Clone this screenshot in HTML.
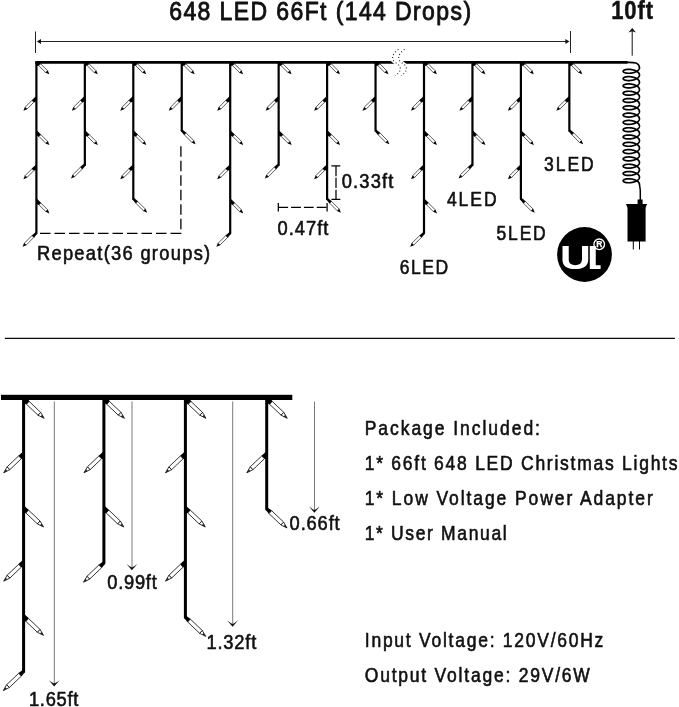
<!DOCTYPE html>
<html><head><meta charset="utf-8"><title>648 LED</title>
<style>html,body{margin:0;padding:0;background:#fff}svg{display:block;will-change:transform}</style></head>
<body>
<svg width="679" height="707" viewBox="0 0 679 707">
<rect width="679" height="707" fill="#fff"/>
<path d="M35.30 62.4 H627.5" stroke="#000" stroke-width="2.7" fill="none"/>
<path d="M36.40 62.4 V233.30" stroke="#000" stroke-width="2.2" fill="none" stroke-linecap="round"/>
<polygon points="36.40,62.40 39.28,62.40 40.87,63.60 38.60,65.87 36.40,65.88" fill="#000"/><polygon points="40.65,63.82 47.58,70.75 45.75,72.58 38.82,65.65" fill="#fff" stroke="#000" stroke-width="0.65"/><polygon points="47.80,70.53 49.35,74.35 45.53,72.80" fill="#000"/>
<polygon points="36.40,95.75 31.73,100.20 34.00,102.47 36.40,101.12" fill="#000"/><polygon points="33.78,102.25 27.00,109.04 25.16,107.20 31.95,100.42" fill="#fff" stroke="#000" stroke-width="0.65"/><polygon points="27.21,109.26 23.39,110.81 24.94,106.99" fill="#000"/>
<polygon points="36.40,129.95 41.07,134.40 38.80,136.67 36.40,135.32" fill="#000"/><polygon points="40.85,134.62 47.64,141.40 45.80,143.24 39.02,136.45" fill="#fff" stroke="#000" stroke-width="0.65"/><polygon points="47.86,141.19 49.41,145.01 45.59,143.46" fill="#000"/>
<polygon points="36.40,164.15 31.73,168.60 34.00,170.87 36.40,169.52" fill="#000"/><polygon points="33.78,170.65 27.00,177.44 25.16,175.60 31.95,168.82" fill="#fff" stroke="#000" stroke-width="0.65"/><polygon points="27.21,177.66 23.39,179.21 24.94,175.39" fill="#000"/>
<polygon points="36.40,198.35 41.07,202.80 38.80,205.07 36.40,203.72" fill="#000"/><polygon points="40.85,203.02 47.64,209.80 45.80,211.64 39.02,204.85" fill="#fff" stroke="#000" stroke-width="0.65"/><polygon points="47.86,209.59 49.41,213.41 45.59,211.86" fill="#000"/>
<polygon points="37.39,233.57 34.00,237.67 31.73,235.40 35.83,232.01" fill="#000"/><polygon points="33.78,237.45 26.15,245.09 24.31,243.25 31.95,235.62" fill="#fff" stroke="#000" stroke-width="0.65"/><polygon points="26.36,245.30 22.54,246.86 24.10,243.04" fill="#000"/>
<path d="M84.85 62.4 V164.90" stroke="#000" stroke-width="2.2" fill="none" stroke-linecap="round"/>
<polygon points="84.85,62.40 87.73,62.40 89.32,63.60 87.05,65.87 84.85,65.88" fill="#000"/><polygon points="89.10,63.82 96.03,70.75 94.20,72.58 87.27,65.65" fill="#fff" stroke="#000" stroke-width="0.65"/><polygon points="96.25,70.53 97.80,74.35 93.98,72.80" fill="#000"/>
<polygon points="84.85,95.75 80.18,100.20 82.45,102.47 84.85,101.12" fill="#000"/><polygon points="82.23,102.25 75.45,109.04 73.61,107.20 80.40,100.42" fill="#fff" stroke="#000" stroke-width="0.65"/><polygon points="75.66,109.26 71.84,110.81 73.39,106.99" fill="#000"/>
<polygon points="84.85,129.95 89.52,134.40 87.25,136.67 84.85,135.32" fill="#000"/><polygon points="89.30,134.62 96.09,141.40 94.25,143.24 87.47,136.45" fill="#fff" stroke="#000" stroke-width="0.65"/><polygon points="96.31,141.19 97.86,145.01 94.04,143.46" fill="#000"/>
<polygon points="85.84,165.17 82.45,169.27 80.18,167.00 84.28,163.61" fill="#000"/><polygon points="82.23,169.05 74.60,176.69 72.76,174.85 80.40,167.22" fill="#fff" stroke="#000" stroke-width="0.65"/><polygon points="74.81,176.90 70.99,178.46 72.55,174.64" fill="#000"/>
<path d="M133.30 62.4 V199.10" stroke="#000" stroke-width="2.2" fill="none" stroke-linecap="round"/>
<polygon points="133.30,62.40 136.18,62.40 137.77,63.60 135.50,65.87 133.30,65.88" fill="#000"/><polygon points="137.55,63.82 144.48,70.75 142.65,72.58 135.72,65.65" fill="#fff" stroke="#000" stroke-width="0.65"/><polygon points="144.70,70.53 146.25,74.35 142.43,72.80" fill="#000"/>
<polygon points="133.30,95.75 128.63,100.20 130.90,102.47 133.30,101.12" fill="#000"/><polygon points="130.68,102.25 123.90,109.04 122.06,107.20 128.85,100.42" fill="#fff" stroke="#000" stroke-width="0.65"/><polygon points="124.11,109.26 120.29,110.81 121.84,106.99" fill="#000"/>
<polygon points="133.30,129.95 137.97,134.40 135.70,136.67 133.30,135.32" fill="#000"/><polygon points="137.75,134.62 144.54,141.40 142.70,143.24 135.92,136.45" fill="#fff" stroke="#000" stroke-width="0.65"/><polygon points="144.76,141.19 146.31,145.01 142.49,143.46" fill="#000"/>
<polygon points="133.30,164.15 128.63,168.60 130.90,170.87 133.30,169.52" fill="#000"/><polygon points="130.68,170.65 123.90,177.44 122.06,175.60 128.85,168.82" fill="#fff" stroke="#000" stroke-width="0.65"/><polygon points="124.11,177.66 120.29,179.21 121.84,175.39" fill="#000"/>
<polygon points="133.87,197.81 137.97,201.20 135.70,203.47 132.31,199.37" fill="#000"/><polygon points="137.75,201.42 145.39,209.05 143.55,210.89 135.92,203.25" fill="#fff" stroke="#000" stroke-width="0.65"/><polygon points="145.60,208.84 147.16,212.66 143.34,211.10" fill="#000"/>
<path d="M181.75 62.4 V130.70" stroke="#000" stroke-width="2.2" fill="none" stroke-linecap="round"/>
<polygon points="181.75,62.40 184.63,62.40 186.22,63.60 183.95,65.87 181.75,65.88" fill="#000"/><polygon points="186.00,63.82 192.93,70.75 191.10,72.58 184.17,65.65" fill="#fff" stroke="#000" stroke-width="0.65"/><polygon points="193.15,70.53 194.70,74.35 190.88,72.80" fill="#000"/>
<polygon points="181.75,95.75 177.08,100.20 179.35,102.47 181.75,101.12" fill="#000"/><polygon points="179.13,102.25 172.35,109.04 170.51,107.20 177.30,100.42" fill="#fff" stroke="#000" stroke-width="0.65"/><polygon points="172.56,109.26 168.74,110.81 170.29,106.99" fill="#000"/>
<polygon points="182.32,129.41 186.42,132.80 184.15,135.07 180.76,130.97" fill="#000"/><polygon points="186.20,133.02 193.84,140.65 192.00,142.49 184.37,134.85" fill="#fff" stroke="#000" stroke-width="0.65"/><polygon points="194.05,140.44 195.61,144.26 191.79,142.70" fill="#000"/>
<path d="M230.20 62.4 V233.30" stroke="#000" stroke-width="2.2" fill="none" stroke-linecap="round"/>
<polygon points="230.20,62.40 233.08,62.40 234.67,63.60 232.40,65.87 230.20,65.88" fill="#000"/><polygon points="234.45,63.82 241.38,70.75 239.55,72.58 232.62,65.65" fill="#fff" stroke="#000" stroke-width="0.65"/><polygon points="241.60,70.53 243.15,74.35 239.33,72.80" fill="#000"/>
<polygon points="230.20,95.75 225.53,100.20 227.80,102.47 230.20,101.12" fill="#000"/><polygon points="227.58,102.25 220.80,109.04 218.96,107.20 225.75,100.42" fill="#fff" stroke="#000" stroke-width="0.65"/><polygon points="221.01,109.26 217.19,110.81 218.74,106.99" fill="#000"/>
<polygon points="230.20,129.95 234.87,134.40 232.60,136.67 230.20,135.32" fill="#000"/><polygon points="234.65,134.62 241.44,141.40 239.60,143.24 232.82,136.45" fill="#fff" stroke="#000" stroke-width="0.65"/><polygon points="241.66,141.19 243.21,145.01 239.39,143.46" fill="#000"/>
<polygon points="230.20,164.15 225.53,168.60 227.80,170.87 230.20,169.52" fill="#000"/><polygon points="227.58,170.65 220.80,177.44 218.96,175.60 225.75,168.82" fill="#fff" stroke="#000" stroke-width="0.65"/><polygon points="221.01,177.66 217.19,179.21 218.74,175.39" fill="#000"/>
<polygon points="230.20,198.35 234.87,202.80 232.60,205.07 230.20,203.72" fill="#000"/><polygon points="234.65,203.02 241.44,209.80 239.60,211.64 232.82,204.85" fill="#fff" stroke="#000" stroke-width="0.65"/><polygon points="241.66,209.59 243.21,213.41 239.39,211.86" fill="#000"/>
<polygon points="231.19,233.57 227.80,237.67 225.53,235.40 229.63,232.01" fill="#000"/><polygon points="227.58,237.45 219.95,245.09 218.11,243.25 225.75,235.62" fill="#fff" stroke="#000" stroke-width="0.65"/><polygon points="220.16,245.30 216.34,246.86 217.90,243.04" fill="#000"/>
<path d="M278.65 62.4 V164.90" stroke="#000" stroke-width="2.2" fill="none" stroke-linecap="round"/>
<polygon points="278.65,62.40 281.53,62.40 283.12,63.60 280.85,65.87 278.65,65.88" fill="#000"/><polygon points="282.90,63.82 289.83,70.75 288.00,72.58 281.07,65.65" fill="#fff" stroke="#000" stroke-width="0.65"/><polygon points="290.05,70.53 291.60,74.35 287.78,72.80" fill="#000"/>
<polygon points="278.65,95.75 273.98,100.20 276.25,102.47 278.65,101.12" fill="#000"/><polygon points="276.03,102.25 269.25,109.04 267.41,107.20 274.20,100.42" fill="#fff" stroke="#000" stroke-width="0.65"/><polygon points="269.46,109.26 265.64,110.81 267.19,106.99" fill="#000"/>
<polygon points="278.65,129.95 283.32,134.40 281.05,136.67 278.65,135.32" fill="#000"/><polygon points="283.10,134.62 289.89,141.40 288.05,143.24 281.27,136.45" fill="#fff" stroke="#000" stroke-width="0.65"/><polygon points="290.11,141.19 291.66,145.01 287.84,143.46" fill="#000"/>
<polygon points="279.64,165.17 276.25,169.27 273.98,167.00 278.08,163.61" fill="#000"/><polygon points="276.03,169.05 268.40,176.69 266.56,174.85 274.20,167.22" fill="#fff" stroke="#000" stroke-width="0.65"/><polygon points="268.61,176.90 264.79,178.46 266.35,174.64" fill="#000"/>
<path d="M327.10 62.4 V199.10" stroke="#000" stroke-width="2.2" fill="none" stroke-linecap="round"/>
<polygon points="327.10,62.40 329.98,62.40 331.57,63.60 329.30,65.87 327.10,65.88" fill="#000"/><polygon points="331.35,63.82 338.28,70.75 336.45,72.58 329.52,65.65" fill="#fff" stroke="#000" stroke-width="0.65"/><polygon points="338.50,70.53 340.05,74.35 336.23,72.80" fill="#000"/>
<polygon points="327.10,95.75 322.43,100.20 324.70,102.47 327.10,101.12" fill="#000"/><polygon points="324.48,102.25 317.70,109.04 315.86,107.20 322.65,100.42" fill="#fff" stroke="#000" stroke-width="0.65"/><polygon points="317.91,109.26 314.09,110.81 315.64,106.99" fill="#000"/>
<polygon points="327.10,129.95 331.77,134.40 329.50,136.67 327.10,135.32" fill="#000"/><polygon points="331.55,134.62 338.34,141.40 336.50,143.24 329.72,136.45" fill="#fff" stroke="#000" stroke-width="0.65"/><polygon points="338.56,141.19 340.11,145.01 336.29,143.46" fill="#000"/>
<polygon points="327.10,164.15 322.43,168.60 324.70,170.87 327.10,169.52" fill="#000"/><polygon points="324.48,170.65 317.70,177.44 315.86,175.60 322.65,168.82" fill="#fff" stroke="#000" stroke-width="0.65"/><polygon points="317.91,177.66 314.09,179.21 315.64,175.39" fill="#000"/>
<polygon points="327.67,197.81 331.77,201.20 329.50,203.47 326.11,199.37" fill="#000"/><polygon points="331.55,201.42 339.19,209.05 337.35,210.89 329.72,203.25" fill="#fff" stroke="#000" stroke-width="0.65"/><polygon points="339.40,208.84 340.96,212.66 337.14,211.10" fill="#000"/>
<path d="M375.55 62.4 V130.70" stroke="#000" stroke-width="2.2" fill="none" stroke-linecap="round"/>
<polygon points="375.55,62.40 378.43,62.40 380.02,63.60 377.75,65.87 375.55,65.88" fill="#000"/><polygon points="379.80,63.82 386.73,70.75 384.90,72.58 377.97,65.65" fill="#fff" stroke="#000" stroke-width="0.65"/><polygon points="386.95,70.53 388.50,74.35 384.68,72.80" fill="#000"/>
<polygon points="375.55,95.75 370.88,100.20 373.15,102.47 375.55,101.12" fill="#000"/><polygon points="372.93,102.25 366.15,109.04 364.31,107.20 371.10,100.42" fill="#fff" stroke="#000" stroke-width="0.65"/><polygon points="366.36,109.26 362.54,110.81 364.09,106.99" fill="#000"/>
<polygon points="376.12,129.41 380.22,132.80 377.95,135.07 374.56,130.97" fill="#000"/><polygon points="380.00,133.02 387.64,140.65 385.80,142.49 378.17,134.85" fill="#fff" stroke="#000" stroke-width="0.65"/><polygon points="387.85,140.44 389.41,144.26 385.59,142.70" fill="#000"/>
<path d="M424.00 62.4 V233.30" stroke="#000" stroke-width="2.2" fill="none" stroke-linecap="round"/>
<polygon points="424.00,62.40 426.88,62.40 428.47,63.60 426.20,65.87 424.00,65.88" fill="#000"/><polygon points="428.25,63.82 435.18,70.75 433.35,72.58 426.42,65.65" fill="#fff" stroke="#000" stroke-width="0.65"/><polygon points="435.40,70.53 436.95,74.35 433.13,72.80" fill="#000"/>
<polygon points="424.00,95.75 419.33,100.20 421.60,102.47 424.00,101.12" fill="#000"/><polygon points="421.38,102.25 414.60,109.04 412.76,107.20 419.55,100.42" fill="#fff" stroke="#000" stroke-width="0.65"/><polygon points="414.81,109.26 410.99,110.81 412.54,106.99" fill="#000"/>
<polygon points="424.00,129.95 428.67,134.40 426.40,136.67 424.00,135.32" fill="#000"/><polygon points="428.45,134.62 435.24,141.40 433.40,143.24 426.62,136.45" fill="#fff" stroke="#000" stroke-width="0.65"/><polygon points="435.46,141.19 437.01,145.01 433.19,143.46" fill="#000"/>
<polygon points="424.00,164.15 419.33,168.60 421.60,170.87 424.00,169.52" fill="#000"/><polygon points="421.38,170.65 414.60,177.44 412.76,175.60 419.55,168.82" fill="#fff" stroke="#000" stroke-width="0.65"/><polygon points="414.81,177.66 410.99,179.21 412.54,175.39" fill="#000"/>
<polygon points="424.00,198.35 428.67,202.80 426.40,205.07 424.00,203.72" fill="#000"/><polygon points="428.45,203.02 435.24,209.80 433.40,211.64 426.62,204.85" fill="#fff" stroke="#000" stroke-width="0.65"/><polygon points="435.46,209.59 437.01,213.41 433.19,211.86" fill="#000"/>
<polygon points="424.99,233.57 421.60,237.67 419.33,235.40 423.43,232.01" fill="#000"/><polygon points="421.38,237.45 413.75,245.09 411.91,243.25 419.55,235.62" fill="#fff" stroke="#000" stroke-width="0.65"/><polygon points="413.96,245.30 410.14,246.86 411.70,243.04" fill="#000"/>
<path d="M472.45 62.4 V164.90" stroke="#000" stroke-width="2.2" fill="none" stroke-linecap="round"/>
<polygon points="472.45,62.40 475.33,62.40 476.92,63.60 474.65,65.87 472.45,65.88" fill="#000"/><polygon points="476.70,63.82 483.63,70.75 481.80,72.58 474.87,65.65" fill="#fff" stroke="#000" stroke-width="0.65"/><polygon points="483.85,70.53 485.40,74.35 481.58,72.80" fill="#000"/>
<polygon points="472.45,95.75 467.78,100.20 470.05,102.47 472.45,101.12" fill="#000"/><polygon points="469.83,102.25 463.05,109.04 461.21,107.20 468.00,100.42" fill="#fff" stroke="#000" stroke-width="0.65"/><polygon points="463.26,109.26 459.44,110.81 460.99,106.99" fill="#000"/>
<polygon points="472.45,129.95 477.12,134.40 474.85,136.67 472.45,135.32" fill="#000"/><polygon points="476.90,134.62 483.69,141.40 481.85,143.24 475.07,136.45" fill="#fff" stroke="#000" stroke-width="0.65"/><polygon points="483.91,141.19 485.46,145.01 481.64,143.46" fill="#000"/>
<polygon points="473.44,165.17 470.05,169.27 467.78,167.00 471.88,163.61" fill="#000"/><polygon points="469.83,169.05 462.20,176.69 460.36,174.85 468.00,167.22" fill="#fff" stroke="#000" stroke-width="0.65"/><polygon points="462.41,176.90 458.59,178.46 460.15,174.64" fill="#000"/>
<path d="M520.90 62.4 V199.10" stroke="#000" stroke-width="2.2" fill="none" stroke-linecap="round"/>
<polygon points="520.90,62.40 523.78,62.40 525.37,63.60 523.10,65.87 520.90,65.88" fill="#000"/><polygon points="525.15,63.82 532.08,70.75 530.25,72.58 523.32,65.65" fill="#fff" stroke="#000" stroke-width="0.65"/><polygon points="532.30,70.53 533.85,74.35 530.03,72.80" fill="#000"/>
<polygon points="520.90,95.75 516.23,100.20 518.50,102.47 520.90,101.12" fill="#000"/><polygon points="518.28,102.25 511.50,109.04 509.66,107.20 516.45,100.42" fill="#fff" stroke="#000" stroke-width="0.65"/><polygon points="511.71,109.26 507.89,110.81 509.44,106.99" fill="#000"/>
<polygon points="520.90,129.95 525.57,134.40 523.30,136.67 520.90,135.32" fill="#000"/><polygon points="525.35,134.62 532.14,141.40 530.30,143.24 523.52,136.45" fill="#fff" stroke="#000" stroke-width="0.65"/><polygon points="532.36,141.19 533.91,145.01 530.09,143.46" fill="#000"/>
<polygon points="520.90,164.15 516.23,168.60 518.50,170.87 520.90,169.52" fill="#000"/><polygon points="518.28,170.65 511.50,177.44 509.66,175.60 516.45,168.82" fill="#fff" stroke="#000" stroke-width="0.65"/><polygon points="511.71,177.66 507.89,179.21 509.44,175.39" fill="#000"/>
<polygon points="521.47,197.81 525.57,201.20 523.30,203.47 519.91,199.37" fill="#000"/><polygon points="525.35,201.42 532.99,209.05 531.15,210.89 523.52,203.25" fill="#fff" stroke="#000" stroke-width="0.65"/><polygon points="533.20,208.84 534.76,212.66 530.94,211.10" fill="#000"/>
<path d="M569.35 62.4 V130.70" stroke="#000" stroke-width="2.2" fill="none" stroke-linecap="round"/>
<polygon points="569.35,62.40 572.23,62.40 573.82,63.60 571.55,65.87 569.35,65.88" fill="#000"/><polygon points="573.60,63.82 580.53,70.75 578.70,72.58 571.77,65.65" fill="#fff" stroke="#000" stroke-width="0.65"/><polygon points="580.75,70.53 582.30,74.35 578.48,72.80" fill="#000"/>
<polygon points="569.35,95.75 564.68,100.20 566.95,102.47 569.35,101.12" fill="#000"/><polygon points="566.73,102.25 559.95,109.04 558.11,107.20 564.90,100.42" fill="#fff" stroke="#000" stroke-width="0.65"/><polygon points="560.16,109.26 556.34,110.81 557.89,106.99" fill="#000"/>
<polygon points="569.92,129.41 574.02,132.80 571.75,135.07 568.36,130.97" fill="#000"/><polygon points="573.80,133.02 581.44,140.65 579.60,142.49 571.97,134.85" fill="#fff" stroke="#000" stroke-width="0.65"/><polygon points="581.65,140.44 583.21,144.26 579.39,142.70" fill="#000"/>
<path d="M395.50 49.40 C391.00 52.60 389.30 55.60 389.60 58.10 C390.00 61.60 393.00 62.60 394.50 64.00 C397.00 66.10 397.60 68.10 397.20 69.60 C396.80 72.10 394.50 74.10 392.00 75.60 L404.10 75.60 C406.60 74.10 408.90 72.10 409.30 69.60 C409.70 68.10 409.10 66.10 406.60 64.00 C405.10 62.60 402.10 61.60 401.70 58.10 C401.40 55.60 403.10 52.60 407.60 49.40 Z" fill="#fff" stroke="none"/>
<path d="M398.50 49.40 C394.00 52.60 392.30 55.60 392.60 58.10 C393.00 61.60 396.00 62.60 397.50 64.00 C400.00 66.10 400.60 68.10 400.20 69.60 C399.80 72.10 397.50 74.10 395.00 75.60" fill="none" stroke="#222" stroke-width="1.1" stroke-dasharray="1 2.3"/>
<path d="M404.60 49.40 C400.10 52.60 398.40 55.60 398.70 58.10 C399.10 61.60 402.10 62.60 403.60 64.00 C406.10 66.10 406.70 68.10 406.30 69.60 C405.90 72.10 403.60 74.10 401.10 75.60" fill="none" stroke="#222" stroke-width="1.1" stroke-dasharray="1 2.3"/>
<g stroke="#222" stroke-width="1" fill="none">
<path d="M35.5 31.5 V53"/><path d="M570.5 31 V53"/><path d="M38 41.5 H568"/>
</g>
<polygon points="36.8,41.5 41,39.1 41,43.9" fill="#111"/>
<polygon points="569.4,41.5 565.4,39.1 565.4,43.9" fill="#111"/>
<path d="M632.2 30 V55.7" stroke="#111" stroke-width="1" fill="none"/>
<path d="M632.2 28 L636 32.6 L632.2 31.3 L628.4 32.6 Z" fill="#111"/>
<path d="M639.45 67.65 L639.44 67.92 L639.40 68.18 L639.34 68.45 L639.25 68.71 L639.13 68.97 L639.00 69.22 L638.83 69.48 L638.65 69.73 L638.44 69.97 L638.21 70.21 L637.96 70.44 L637.69 70.67 L637.39 70.89 L637.08 71.10 L636.75 71.30 L636.40 71.50 L636.04 71.68 L635.66 71.86 L635.27 72.03 L634.87 72.19 L634.45 72.33 L634.03 72.47 L633.60 72.60 L633.16 72.71 L632.71 72.82 L632.26 72.91 L631.80 73.00 L631.35 73.07 L630.89 73.13 L630.44 73.18 L629.99 73.22 L629.54 73.24 L629.10 73.26 L628.67 73.26 L628.24 73.26 L627.82 73.24 L627.42 73.22 L627.02 73.18 L626.64 73.14 L626.27 73.08 L625.92 73.02 L625.59 72.95 L625.27 72.87 L624.98 72.78 L624.70 72.68 L624.44 72.58 L624.21 72.48 L623.99 72.36 L623.80 72.24 L623.64 72.12 L623.49 72.00 L623.38 71.87 L623.28 71.74 L623.21 71.60 L623.17 71.47 L623.15 71.33 L623.16 71.19 L623.19 71.06 L623.25 70.92 L623.33 70.79 L623.44 70.66 L623.57 70.53 L623.73 70.41 L623.91 70.29 L624.11 70.17 L624.34 70.06 L624.58 69.96 L624.85 69.86 L625.14 69.77 L625.45 69.69 L625.78 69.61 L626.12 69.55 L626.48 69.49 L626.85 69.44 L627.24 69.40 L627.64 69.37 L628.06 69.35 L628.48 69.34 L628.91 69.34 L629.35 69.35 L629.79 69.37 L630.24 69.40 L630.70 69.45 L631.15 69.50 L631.61 69.57 L632.06 69.65 L632.51 69.74 L632.96 69.84 L633.40 69.95 L633.84 70.07 L634.27 70.21 L634.69 70.35 L635.10 70.50 L635.49 70.67 L635.88 70.84 L636.25 71.02 L636.60 71.21 L636.94 71.41 L637.26 71.62 L637.56 71.84 L637.84 72.06 L638.10 72.29 L638.34 72.53 L638.56 72.77 L638.76 73.01 L638.93 73.26 L639.08 73.52 L639.20 73.78 L639.30 74.04 L639.37 74.30 L639.42 74.57 L639.45 74.83 L639.45 75.10 L639.42 75.37 L639.37 75.63 L639.29 75.89 L639.19 76.15 L639.06 76.41 L638.91 76.67 L638.73 76.92 L638.53 77.16 L638.31 77.40 L638.07 77.64 L637.81 77.87 L637.52 78.09 L637.22 78.31 L636.90 78.51 L636.56 78.71 L636.20 78.90 L635.83 79.08 L635.44 79.25 L635.05 79.42 L634.64 79.57 L634.22 79.71 L633.79 79.84 L633.35 79.96 L632.90 80.07 L632.46 80.17 L632.00 80.26 L631.55 80.34 L631.09 80.40 L630.64 80.46 L630.19 80.50 L629.74 80.53 L629.29 80.55 L628.85 80.56 L628.42 80.56 L628.00 80.55 L627.59 80.53 L627.19 80.50 L626.81 80.46 L626.43 80.41 L626.08 80.35 L625.73 80.28 L625.41 80.20 L625.10 80.12 L624.82 80.03 L624.55 79.93 L624.31 79.82 L624.09 79.71 L623.88 79.60 L623.71 79.48 L623.55 79.35 L623.42 79.22 L623.32 79.09 L623.24 78.96 L623.18 78.83 L623.16 78.69 L623.15 78.55 L623.17 78.42 L623.22 78.28 L623.29 78.15 L623.39 78.02 L623.51 77.89 L623.66 77.76 L623.83 77.64 L624.02 77.52 L624.24 77.41 L624.47 77.30 L624.73 77.20 L625.01 77.11 L625.31 77.02 L625.63 76.94 L625.97 76.87 L626.32 76.81 L626.69 76.76 L627.07 76.71 L627.47 76.68 L627.87 76.65 L628.29 76.64 L628.72 76.64 L629.16 76.64 L629.60 76.66 L630.05 76.69 L630.50 76.73 L630.95 76.78 L631.41 76.84 L631.86 76.91 L632.31 77.00 L632.77 77.09 L633.21 77.20 L633.65 77.32 L634.08 77.45 L634.51 77.58 L634.92 77.73 L635.32 77.89 L635.71 78.06 L636.09 78.24 L636.45 78.43 L636.79 78.62 L637.12 78.83 L637.43 79.04 L637.72 79.26 L637.99 79.49 L638.24 79.72 L638.47 79.96 L638.67 80.21 L638.86 80.45 L639.01 80.71 L639.15 80.96 L639.26 81.22 L639.35 81.49 L639.41 81.75 L639.44 82.02 L639.45 82.28 L639.43 82.55 L639.39 82.81 L639.33 83.08 L639.23 83.34 L639.12 83.60 L638.98 83.86 L638.81 84.11 L638.62 84.36 L638.41 84.60 L638.18 84.84 L637.93 85.07 L637.65 85.29 L637.35 85.51 L637.04 85.72 L636.71 85.93 L636.36 86.12 L635.99 86.30 L635.61 86.48 L635.22 86.65 L634.82 86.80 L634.40 86.95 L633.97 87.09 L633.54 87.21 L633.10 87.33 L632.65 87.43 L632.20 87.52 L631.75 87.61 L631.29 87.68 L630.84 87.74 L630.38 87.78 L629.93 87.82 L629.49 87.85 L629.05 87.86 L628.61 87.86 L628.19 87.86 L627.77 87.84 L627.37 87.81 L626.97 87.78 L626.59 87.73 L626.23 87.67 L625.88 87.61 L625.55 87.54 L625.24 87.46 L624.94 87.37 L624.67 87.27 L624.41 87.17 L624.18 87.06 L623.97 86.95 L623.78 86.83 L623.62 86.71 L623.48 86.58 L623.36 86.45 L623.27 86.32 L623.21 86.18 L623.17 86.05 L623.15 85.91 L623.16 85.78 L623.20 85.64 L623.26 85.51 L623.34 85.37 L623.45 85.24 L623.59 85.12 L623.75 84.99 L623.93 84.87 L624.14 84.76 L624.37 84.65 L624.62 84.55 L624.89 84.45 L625.18 84.36 L625.49 84.28 L625.82 84.20 L626.16 84.14 L626.52 84.08 L626.90 84.03 L627.29 83.99 L627.69 83.96 L628.11 83.95 L628.53 83.94 L628.96 83.94 L629.40 83.95 L629.85 83.97 L630.30 84.01 L630.75 84.06 L631.21 84.11 L631.66 84.18 L632.12 84.26 L632.57 84.35 L633.02 84.45 L633.46 84.57 L633.89 84.69 L634.32 84.82 L634.74 84.97 L635.15 85.12 L635.54 85.29 L635.92 85.46 L636.29 85.65 L636.64 85.84 L636.98 86.04 L637.30 86.25 L637.60 86.46 L637.88 86.69 L638.13 86.92 L638.37 87.16 L638.59 87.40 L638.78 87.64 L638.95 87.90 L639.09 88.15 L639.21 88.41 L639.31 88.67 L639.38 88.94 L639.43 89.20 L639.45 89.47 L639.44 89.73 L639.41 90.00 L639.36 90.26 L639.28 90.53 L639.17 90.79 L639.04 91.04 L638.89 91.30 L638.71 91.55 L638.51 91.79 L638.28 92.03 L638.04 92.27 L637.77 92.50 L637.49 92.72 L637.18 92.93 L636.86 93.14 L636.51 93.34 L636.16 93.52 L635.78 93.70 L635.40 93.88 L635.00 94.04 L634.58 94.19 L634.16 94.33 L633.73 94.46 L633.29 94.58 L632.85 94.69 L632.40 94.78 L631.95 94.87 L631.49 94.95 L631.04 95.01 L630.58 95.06 L630.13 95.11 L629.68 95.14 L629.24 95.16 L628.80 95.16 L628.37 95.16 L627.95 95.15 L627.54 95.13 L627.14 95.09 L626.76 95.05 L626.39 95.00 L626.03 94.94 L625.69 94.87 L625.37 94.79 L625.07 94.71 L624.78 94.61 L624.52 94.51 L624.28 94.41 L624.06 94.30 L623.86 94.18 L623.69 94.06 L623.54 93.94 L623.41 93.81 L623.31 93.68 L623.23 93.54 L623.18 93.41 L623.15 93.27 L623.15 93.14 L623.18 93.00 L623.23 92.87 L623.30 92.73 L623.40 92.60 L623.53 92.47 L623.68 92.35 L623.85 92.23 L624.05 92.11 L624.26 92.00 L624.51 91.89 L624.77 91.79 L625.05 91.70 L625.35 91.61 L625.67 91.54 L626.01 91.47 L626.36 91.40 L626.73 91.35 L627.12 91.31 L627.52 91.28 L627.92 91.25 L628.34 91.24 L628.77 91.24 L629.21 91.24 L629.65 91.26 L630.10 91.29 L630.55 91.33 L631.01 91.39 L631.46 91.45 L631.92 91.52 L632.37 91.61 L632.82 91.71 L633.27 91.81 L633.70 91.93 L634.14 92.06 L634.56 92.20 L634.97 92.35 L635.37 92.51 L635.76 92.68 L636.13 92.86 L636.49 93.05 L636.83 93.25 L637.16 93.46 L637.47 93.67 L637.76 93.89 L638.02 94.12 L638.27 94.35 L638.49 94.59 L638.70 94.84 L638.88 95.09 L639.03 95.34 L639.16 95.60 L639.27 95.86 L639.35 96.12 L639.41 96.38 L639.44 96.65 L639.45 96.92 L639.43 97.18 L639.39 97.45 L639.32 97.71 L639.22 97.97 L639.10 98.23 L638.96 98.49 L638.79 98.74 L638.60 98.99 L638.39 99.23 L638.15 99.47 L637.89 99.70 L637.61 99.92 L637.32 100.14 L637.00 100.35 L636.67 100.55 L636.31 100.74 L635.95 100.93 L635.57 101.10 L635.17 101.27 L634.77 101.42 L634.35 101.57 L633.92 101.70 L633.49 101.83 L633.04 101.94 L632.60 102.04 L632.15 102.13 L631.69 102.22 L631.24 102.28 L630.78 102.34 L630.33 102.39 L629.88 102.42 L629.43 102.45 L628.99 102.46 L628.56 102.46 L628.13 102.46 L627.72 102.44 L627.32 102.41 L626.92 102.37 L626.55 102.32 L626.19 102.27 L625.84 102.20 L625.51 102.13 L625.20 102.04 L624.91 101.96 L624.63 101.86 L624.38 101.76 L624.15 101.65 L623.94 101.53 L623.76 101.41 L623.60 101.29 L623.46 101.16 L623.35 101.03 L623.26 100.90 L623.20 100.77 L623.16 100.63 L623.15 100.50 L623.16 100.36 L623.20 100.22 L623.27 100.09 L623.36 99.96 L623.47 99.83 L623.61 99.70 L623.77 99.58 L623.96 99.46 L624.17 99.35 L624.40 99.24 L624.65 99.13 L624.92 99.04 L625.22 98.95 L625.53 98.87 L625.86 98.80 L626.21 98.73 L626.57 98.67 L626.95 98.63 L627.34 98.59 L627.74 98.56 L628.16 98.54 L628.58 98.54 L629.02 98.54 L629.46 98.55 L629.91 98.58 L630.36 98.61 L630.81 98.66 L631.26 98.72 L631.72 98.79 L632.17 98.87 L632.62 98.96 L633.07 99.07 L633.51 99.18 L633.95 99.30 L634.37 99.44 L634.79 99.59 L635.20 99.74 L635.59 99.91 L635.97 100.08 L636.34 100.27 L636.69 100.46 L637.02 100.66 L637.34 100.87 L637.63 101.09 L637.91 101.32 L638.16 101.55 L638.40 101.79 L638.61 102.03 L638.80 102.28 L638.97 102.53 L639.11 102.78 L639.23 103.04 L639.32 103.31 L639.39 103.57 L639.43 103.83 L639.45 104.10 L639.44 104.37 L639.41 104.63 L639.35 104.90 L639.27 105.16 L639.16 105.42 L639.02 105.68 L638.87 105.93 L638.69 106.18 L638.48 106.42 L638.26 106.66 L638.01 106.90 L637.74 107.12 L637.45 107.34 L637.14 107.56 L636.81 107.76 L636.47 107.96 L636.11 108.15 L635.74 108.33 L635.35 108.50 L634.94 108.66 L634.53 108.81 L634.11 108.95 L633.68 109.07 L633.24 109.19 L632.79 109.30 L632.34 109.40 L631.89 109.48 L631.44 109.56 L630.98 109.62 L630.53 109.67 L630.07 109.71 L629.63 109.74 L629.18 109.76 L628.75 109.76 L628.32 109.76 L627.90 109.75 L627.49 109.72 L627.09 109.69 L626.71 109.64 L626.34 109.59 L625.99 109.53 L625.65 109.46 L625.33 109.38 L625.03 109.30 L624.75 109.20 L624.49 109.10 L624.25 109.00 L624.03 108.88 L623.84 108.77 L623.67 108.65 L623.52 108.52 L623.40 108.39 L623.30 108.26 L623.22 108.13 L623.18 107.99 L623.15 107.86 L623.15 107.72 L623.18 107.58 L623.24 107.45 L623.31 107.32 L623.42 107.18 L623.54 107.06 L623.70 106.93 L623.87 106.81 L624.07 106.69 L624.29 106.58 L624.54 106.48 L624.80 106.38 L625.09 106.29 L625.39 106.20 L625.71 106.13 L626.05 106.06 L626.41 106.00 L626.78 105.95 L627.17 105.90 L627.57 105.87 L627.98 105.85 L628.40 105.84 L628.83 105.84 L629.27 105.85 L629.71 105.87 L630.16 105.90 L630.61 105.94 L631.07 105.99 L631.52 106.06 L631.98 106.13 L632.43 106.22 L632.88 106.32 L633.32 106.43 L633.76 106.55 L634.19 106.68 L634.61 106.82 L635.02 106.97 L635.42 107.13 L635.81 107.31 L636.18 107.49 L636.54 107.68 L636.88 107.88 L637.20 108.08 L637.50 108.30 L637.79 108.52 L638.06 108.75 L638.30 108.98 L638.52 109.22 L638.72 109.47 L638.90 109.72 L639.05 109.97 L639.18 110.23 L639.28 110.49 L639.36 110.75 L639.42 111.02 L639.45 111.28 L639.45 111.55 L639.43 111.82 L639.38 112.08 L639.31 112.34 L639.21 112.61 L639.09 112.86 L638.94 113.12 L638.77 113.37 L638.57 113.62 L638.36 113.86 L638.12 114.10 L637.86 114.33 L637.58 114.55 L637.28 114.77 L636.96 114.97 L636.62 115.17 L636.27 115.37 L635.90 115.55 L635.52 115.72 L635.12 115.89 L634.71 116.04 L634.30 116.19 L633.87 116.32 L633.43 116.44 L632.99 116.55 L632.54 116.66 L632.09 116.75 L631.63 116.82 L631.18 116.89 L630.72 116.95 L630.27 116.99 L629.82 117.03 L629.38 117.05 L628.94 117.06 L628.50 117.06 L628.08 117.05 L627.67 117.03 L627.27 117.00 L626.88 116.97 L626.50 116.92 L626.14 116.86 L625.80 116.79 L625.47 116.72 L625.16 116.63 L624.87 116.54 L624.60 116.45 L624.35 116.34 L624.13 116.23 L623.92 116.12 L623.74 116.00 L623.58 115.88 L623.45 115.75 L623.34 115.62 L623.25 115.49 L623.19 115.35 L623.16 115.21 L623.15 115.08 L623.17 114.94 L623.21 114.81 L623.28 114.67 L623.37 114.54 L623.49 114.41 L623.63 114.29 L623.79 114.16 L623.98 114.04 L624.19 113.93 L624.43 113.82 L624.68 113.72 L624.96 113.63 L625.26 113.54 L625.57 113.46 L625.90 113.39 L626.25 113.32 L626.62 113.27 L627.00 113.22 L627.39 113.18 L627.80 113.16 L628.21 113.14 L628.64 113.14 L629.07 113.14 L629.51 113.16 L629.96 113.18 L630.41 113.22 L630.87 113.27 L631.32 113.33 L631.78 113.40 L632.23 113.48 L632.68 113.57 L633.13 113.68 L633.57 113.79 L634.00 113.92 L634.43 114.06 L634.84 114.21 L635.25 114.36 L635.64 114.53 L636.02 114.71 L636.38 114.89 L636.73 115.09 L637.06 115.29 L637.37 115.50 L637.67 115.72 L637.94 115.95 L638.20 116.18 L638.43 116.42 L638.64 116.66 L638.82 116.91 L638.99 117.16 L639.13 117.42 L639.24 117.68 L639.33 117.94 L639.40 118.20 L639.44 118.47 L639.45 118.73 L639.44 119.00 L639.40 119.26 L639.34 119.53 L639.25 119.79 L639.14 120.05 L639.01 120.31 L638.85 120.56 L638.66 120.81 L638.45 121.05 L638.23 121.29 L637.97 121.53 L637.70 121.75 L637.41 121.97 L637.10 122.18 L636.77 122.39 L636.43 122.58 L636.06 122.77 L635.69 122.95 L635.30 123.12 L634.89 123.28 L634.48 123.42 L634.06 123.56 L633.62 123.69 L633.18 123.81 L632.74 123.91 L632.29 124.01 L631.83 124.09 L631.38 124.16 L630.92 124.22 L630.47 124.27 L630.02 124.31 L629.57 124.34 L629.13 124.36 L628.69 124.36 L628.27 124.36 L627.85 124.34 L627.44 124.32 L627.05 124.28 L626.66 124.24 L626.30 124.18 L625.95 124.12 L625.61 124.05 L625.29 123.97 L625.00 123.88 L624.72 123.79 L624.46 123.69 L624.22 123.58 L624.01 123.47 L623.82 123.35 L623.65 123.23 L623.50 123.10 L623.38 122.98 L623.29 122.84 L623.22 122.71 L623.17 122.57 L623.15 122.44 L623.16 122.30 L623.19 122.17 L623.24 122.03 L623.33 121.90 L623.43 121.77 L623.56 121.64 L623.72 121.52 L623.90 121.40 L624.10 121.28 L624.32 121.17 L624.57 121.07 L624.84 120.97 L625.12 120.88 L625.43 120.79 L625.75 120.72 L626.10 120.65 L626.46 120.59 L626.83 120.54 L627.22 120.50 L627.62 120.47 L628.03 120.45 L628.45 120.44 L628.88 120.44 L629.32 120.45 L629.77 120.47 L630.21 120.50 L630.67 120.55 L631.12 120.60 L631.58 120.67 L632.03 120.74 L632.48 120.83 L632.93 120.93 L633.38 121.04 L633.81 121.16 L634.24 121.30 L634.66 121.44 L635.07 121.59 L635.47 121.76 L635.85 121.93 L636.22 122.11 L636.58 122.30 L636.92 122.50 L637.24 122.71 L637.54 122.92 L637.82 123.15 L638.09 123.38 L638.33 123.61 L638.55 123.85 L638.74 124.10 L638.92 124.35 L639.07 124.60 L639.19 124.86 L639.29 125.12 L639.37 125.39 L639.42 125.65 L639.45 125.92 L639.45 126.18 L639.42 126.45 L639.37 126.71 L639.29 126.98 L639.19 127.24 L639.07 127.50 L638.92 127.75 L638.74 128.00 L638.55 128.25 L638.33 128.49 L638.09 128.72 L637.82 128.95 L637.54 129.18 L637.24 129.39 L636.92 129.60 L636.58 129.80 L636.22 129.99 L635.85 130.17 L635.47 130.34 L635.07 130.51 L634.66 130.66 L634.24 130.80 L633.81 130.94 L633.38 131.06 L632.93 131.17 L632.48 131.27 L632.03 131.36 L631.58 131.43 L631.12 131.50 L630.67 131.55 L630.21 131.60 L629.77 131.63 L629.32 131.65 L628.88 131.66 L628.45 131.66 L628.03 131.65 L627.62 131.63 L627.22 131.60 L626.83 131.56 L626.46 131.51 L626.10 131.45 L625.75 131.38 L625.43 131.31 L625.12 131.22 L624.84 131.13 L624.57 131.03 L624.32 130.93 L624.10 130.82 L623.90 130.70 L623.72 130.58 L623.56 130.46 L623.43 130.33 L623.33 130.20 L623.24 130.07 L623.19 129.93 L623.16 129.80 L623.15 129.66 L623.17 129.53 L623.22 129.39 L623.29 129.26 L623.38 129.12 L623.50 129.00 L623.65 128.87 L623.82 128.75 L624.01 128.63 L624.22 128.52 L624.46 128.41 L624.72 128.31 L625.00 128.22 L625.29 128.13 L625.61 128.05 L625.95 127.98 L626.30 127.92 L626.66 127.86 L627.05 127.82 L627.44 127.78 L627.85 127.76 L628.27 127.74 L628.69 127.74 L629.13 127.74 L629.57 127.76 L630.02 127.79 L630.47 127.83 L630.92 127.88 L631.38 127.94 L631.83 128.01 L632.29 128.09 L632.74 128.19 L633.18 128.29 L633.62 128.41 L634.06 128.54 L634.48 128.68 L634.89 128.82 L635.30 128.98 L635.69 129.15 L636.06 129.33 L636.43 129.52 L636.77 129.71 L637.10 129.92 L637.41 130.13 L637.70 130.35 L637.97 130.57 L638.23 130.81 L638.45 131.05 L638.66 131.29 L638.85 131.54 L639.01 131.79 L639.14 132.05 L639.25 132.31 L639.34 132.57 L639.40 132.84 L639.44 133.10 L639.45 133.37 L639.44 133.63 L639.40 133.90 L639.33 134.16 L639.24 134.42 L639.13 134.68 L638.99 134.94 L638.82 135.19 L638.64 135.44 L638.43 135.68 L638.20 135.92 L637.94 136.15 L637.67 136.38 L637.37 136.60 L637.06 136.81 L636.73 137.01 L636.38 137.21 L636.02 137.39 L635.64 137.57 L635.25 137.74 L634.84 137.89 L634.43 138.04 L634.00 138.18 L633.57 138.31 L633.13 138.42 L632.68 138.53 L632.23 138.62 L631.78 138.70 L631.32 138.77 L630.87 138.83 L630.41 138.88 L629.96 138.92 L629.51 138.94 L629.07 138.96 L628.64 138.96 L628.21 138.96 L627.80 138.94 L627.39 138.92 L627.00 138.88 L626.62 138.83 L626.25 138.78 L625.90 138.71 L625.57 138.64 L625.26 138.56 L624.96 138.47 L624.68 138.38 L624.43 138.28 L624.19 138.17 L623.98 138.06 L623.79 137.94 L623.63 137.81 L623.49 137.69 L623.37 137.56 L623.28 137.43 L623.21 137.29 L623.17 137.16 L623.15 137.02 L623.16 136.89 L623.19 136.75 L623.25 136.61 L623.34 136.48 L623.45 136.35 L623.58 136.22 L623.74 136.10 L623.92 135.98 L624.13 135.87 L624.35 135.76 L624.60 135.65 L624.87 135.56 L625.16 135.47 L625.47 135.38 L625.80 135.31 L626.14 135.24 L626.50 135.18 L626.88 135.13 L627.27 135.10 L627.67 135.07 L628.08 135.05 L628.50 135.04 L628.94 135.04 L629.38 135.05 L629.82 135.07 L630.27 135.11 L630.72 135.15 L631.18 135.21 L631.63 135.28 L632.09 135.35 L632.54 135.44 L632.99 135.55 L633.43 135.66 L633.87 135.78 L634.30 135.91 L634.71 136.06 L635.12 136.21 L635.52 136.38 L635.90 136.55 L636.27 136.73 L636.62 136.93 L636.96 137.13 L637.28 137.33 L637.58 137.55 L637.86 137.77 L638.12 138.00 L638.36 138.24 L638.57 138.48 L638.77 138.73 L638.94 138.98 L639.09 139.24 L639.21 139.49 L639.31 139.76 L639.38 140.02 L639.43 140.28 L639.45 140.55 L639.45 140.82 L639.42 141.08 L639.36 141.35 L639.28 141.61 L639.18 141.87 L639.05 142.13 L638.90 142.38 L638.72 142.63 L638.52 142.88 L638.30 143.12 L638.06 143.35 L637.79 143.58 L637.50 143.80 L637.20 144.02 L636.88 144.22 L636.54 144.42 L636.18 144.61 L635.81 144.79 L635.42 144.97 L635.02 145.13 L634.61 145.28 L634.19 145.42 L633.76 145.55 L633.32 145.67 L632.88 145.78 L632.43 145.88 L631.98 145.97 L631.52 146.04 L631.07 146.11 L630.61 146.16 L630.16 146.20 L629.71 146.23 L629.27 146.25 L628.83 146.26 L628.40 146.26 L627.98 146.25 L627.57 146.23 L627.17 146.20 L626.78 146.15 L626.41 146.10 L626.05 146.04 L625.71 145.97 L625.39 145.90 L625.09 145.81 L624.80 145.72 L624.54 145.62 L624.29 145.52 L624.07 145.41 L623.87 145.29 L623.70 145.17 L623.54 145.04 L623.42 144.92 L623.31 144.78 L623.24 144.65 L623.18 144.52 L623.15 144.38 L623.15 144.24 L623.18 144.11 L623.22 143.97 L623.30 143.84 L623.40 143.71 L623.52 143.58 L623.67 143.45 L623.84 143.33 L624.03 143.22 L624.25 143.10 L624.49 143.00 L624.75 142.90 L625.03 142.80 L625.33 142.72 L625.65 142.64 L625.99 142.57 L626.34 142.51 L626.71 142.46 L627.09 142.41 L627.49 142.38 L627.90 142.35 L628.32 142.34 L628.75 142.34 L629.18 142.34 L629.63 142.36 L630.07 142.39 L630.53 142.43 L630.98 142.48 L631.44 142.54 L631.89 142.62 L632.34 142.70 L632.79 142.80 L633.24 142.91 L633.68 143.03 L634.11 143.15 L634.53 143.29 L634.94 143.44 L635.35 143.60 L635.74 143.77 L636.11 143.95 L636.47 144.14 L636.81 144.34 L637.14 144.54 L637.45 144.76 L637.74 144.98 L638.01 145.20 L638.26 145.44 L638.48 145.68 L638.69 145.92 L638.87 146.17 L639.02 146.42 L639.16 146.68 L639.27 146.94 L639.35 147.20 L639.41 147.47 L639.44 147.73 L639.45 148.00 L639.43 148.27 L639.39 148.53 L639.32 148.79 L639.23 149.06 L639.11 149.32 L638.97 149.57 L638.80 149.82 L638.61 150.07 L638.40 150.31 L638.16 150.55 L637.91 150.78 L637.63 151.01 L637.34 151.23 L637.02 151.44 L636.69 151.64 L636.34 151.83 L635.97 152.02 L635.59 152.19 L635.20 152.36 L634.79 152.51 L634.37 152.66 L633.95 152.80 L633.51 152.92 L633.07 153.03 L632.62 153.14 L632.17 153.23 L631.72 153.31 L631.26 153.38 L630.81 153.44 L630.36 153.49 L629.91 153.52 L629.46 153.55 L629.02 153.56 L628.58 153.56 L628.16 153.56 L627.74 153.54 L627.34 153.51 L626.95 153.47 L626.57 153.43 L626.21 153.37 L625.86 153.30 L625.53 153.23 L625.22 153.15 L624.92 153.06 L624.65 152.97 L624.40 152.86 L624.17 152.75 L623.96 152.64 L623.77 152.52 L623.61 152.40 L623.47 152.27 L623.36 152.14 L623.27 152.01 L623.20 151.88 L623.16 151.74 L623.15 151.60 L623.16 151.47 L623.20 151.33 L623.26 151.20 L623.35 151.07 L623.46 150.94 L623.60 150.81 L623.76 150.69 L623.94 150.57 L624.15 150.45 L624.38 150.34 L624.63 150.24 L624.91 150.14 L625.20 150.06 L625.51 149.97 L625.84 149.90 L626.19 149.83 L626.55 149.78 L626.92 149.73 L627.32 149.69 L627.72 149.66 L628.13 149.64 L628.56 149.64 L628.99 149.64 L629.43 149.65 L629.88 149.68 L630.33 149.71 L630.78 149.76 L631.24 149.82 L631.69 149.88 L632.15 149.97 L632.60 150.06 L633.04 150.16 L633.49 150.27 L633.92 150.40 L634.35 150.53 L634.77 150.68 L635.17 150.83 L635.57 151.00 L635.95 151.17 L636.31 151.36 L636.67 151.55 L637.00 151.75 L637.32 151.96 L637.61 152.18 L637.89 152.40 L638.15 152.63 L638.39 152.87 L638.60 153.11 L638.79 153.36 L638.96 153.61 L639.10 153.87 L639.22 154.13 L639.32 154.39 L639.39 154.65 L639.43 154.92 L639.45 155.18 L639.44 155.45 L639.41 155.72 L639.35 155.98 L639.27 156.24 L639.16 156.50 L639.03 156.76 L638.88 157.01 L638.70 157.26 L638.49 157.51 L638.27 157.75 L638.02 157.98 L637.76 158.21 L637.47 158.43 L637.16 158.64 L636.83 158.85 L636.49 159.05 L636.13 159.24 L635.76 159.42 L635.37 159.59 L634.97 159.75 L634.56 159.90 L634.14 160.04 L633.70 160.17 L633.27 160.29 L632.82 160.39 L632.37 160.49 L631.92 160.58 L631.46 160.65 L631.01 160.71 L630.55 160.77 L630.10 160.81 L629.65 160.84 L629.21 160.86 L628.77 160.86 L628.34 160.86 L627.92 160.85 L627.52 160.82 L627.12 160.79 L626.73 160.75 L626.36 160.70 L626.01 160.63 L625.67 160.56 L625.35 160.49 L625.05 160.40 L624.77 160.31 L624.51 160.21 L624.26 160.10 L624.05 159.99 L623.85 159.87 L623.68 159.75 L623.53 159.63 L623.40 159.50 L623.30 159.37 L623.23 159.23 L623.18 159.10 L623.15 158.96 L623.15 158.83 L623.18 158.69 L623.23 158.56 L623.31 158.42 L623.41 158.29 L623.54 158.16 L623.69 158.04 L623.86 157.92 L624.06 157.80 L624.28 157.69 L624.52 157.59 L624.78 157.49 L625.07 157.39 L625.37 157.31 L625.69 157.23 L626.03 157.16 L626.39 157.10 L626.76 157.05 L627.14 157.01 L627.54 156.97 L627.95 156.95 L628.37 156.94 L628.80 156.94 L629.24 156.94 L629.68 156.96 L630.13 156.99 L630.58 157.04 L631.04 157.09 L631.49 157.15 L631.95 157.23 L632.40 157.32 L632.85 157.41 L633.29 157.52 L633.73 157.64 L634.16 157.77 L634.58 157.91 L635.00 158.06 L635.40 158.22 L635.78 158.40 L636.16 158.58 L636.51 158.76 L636.86 158.96 L637.18 159.17 L637.49 159.38 L637.77 159.60 L638.04 159.83 L638.28 160.07 L638.51 160.31 L638.71 160.55 L638.89 160.80 L639.04 161.06 L639.17 161.31 L639.28 161.57 L639.36 161.84 L639.41 162.10 L639.44 162.37 L639.45 162.63 L639.43 162.90 L639.38 163.16 L639.31 163.43 L639.21 163.69 L639.09 163.95 L638.95 164.20 L638.78 164.46 L638.59 164.70 L638.37 164.94 L638.13 165.18 L637.88 165.41 L637.60 165.64 L637.30 165.85 L636.98 166.06 L636.64 166.26 L636.29 166.45 L635.92 166.64 L635.54 166.81 L635.15 166.98 L634.74 167.13 L634.32 167.28 L633.89 167.41 L633.46 167.53 L633.02 167.65 L632.57 167.75 L632.12 167.84 L631.66 167.92 L631.21 167.99 L630.75 168.04 L630.30 168.09 L629.85 168.13 L629.40 168.15 L628.96 168.16 L628.53 168.16 L628.11 168.15 L627.69 168.14 L627.29 168.11 L626.90 168.07 L626.52 168.02 L626.16 167.96 L625.82 167.90 L625.49 167.82 L625.18 167.74 L624.89 167.65 L624.62 167.55 L624.37 167.45 L624.14 167.34 L623.93 167.23 L623.75 167.11 L623.59 166.98 L623.45 166.86 L623.34 166.73 L623.26 166.59 L623.20 166.46 L623.16 166.32 L623.15 166.19 L623.17 166.05 L623.21 165.92 L623.27 165.78 L623.36 165.65 L623.48 165.52 L623.62 165.39 L623.78 165.27 L623.97 165.15 L624.18 165.04 L624.41 164.93 L624.67 164.83 L624.94 164.73 L625.24 164.64 L625.55 164.56 L625.88 164.49 L626.23 164.43 L626.59 164.37 L626.97 164.32 L627.37 164.29 L627.77 164.26 L628.19 164.24 L628.61 164.24 L629.05 164.24 L629.49 164.25 L629.93 164.28 L630.38 164.32 L630.84 164.36 L631.29 164.42 L631.75 164.49 L632.20 164.58 L632.65 164.67 L633.10 164.77 L633.54 164.89 L633.97 165.01 L634.40 165.15 L634.82 165.30 L635.22 165.45 L635.61 165.62 L635.99 165.80 L636.36 165.98 L636.71 166.17 L637.04 166.38 L637.35 166.59 L637.65 166.81 L637.93 167.03 L638.18 167.26 L638.41 167.50 L638.62 167.74 L638.81 167.99 L638.98 168.24 L639.12 168.50 L639.23 168.76 L639.33 169.02 L639.39 169.29 L639.43 169.55 L639.45 169.82 L639.44 170.08 L639.41 170.35 L639.35 170.61 L639.26 170.88 L639.15 171.14 L639.01 171.39 L638.86 171.65 L638.67 171.89 L638.47 172.14 L638.24 172.38 L637.99 172.61 L637.72 172.84 L637.43 173.06 L637.12 173.27 L636.79 173.48 L636.45 173.67 L636.09 173.86 L635.71 174.04 L635.32 174.21 L634.92 174.37 L634.51 174.52 L634.08 174.65 L633.65 174.78 L633.21 174.90 L632.77 175.01 L632.31 175.10 L631.86 175.19 L631.41 175.26 L630.95 175.32 L630.50 175.37 L630.05 175.41 L629.60 175.44 L629.16 175.46 L628.72 175.46 L628.29 175.46 L627.87 175.45 L627.47 175.42 L627.07 175.39 L626.69 175.34 L626.32 175.29 L625.97 175.23 L625.63 175.16 L625.31 175.08 L625.01 174.99 L624.73 174.90 L624.47 174.80 L624.24 174.69 L624.02 174.58 L623.83 174.46 L623.66 174.34 L623.51 174.21 L623.39 174.08 L623.29 173.95 L623.22 173.82 L623.17 173.68 L623.15 173.55 L623.16 173.41 L623.18 173.27 L623.24 173.14 L623.32 173.01 L623.42 172.88 L623.55 172.75 L623.71 172.62 L623.88 172.50 L624.09 172.39 L624.31 172.28 L624.55 172.17 L624.82 172.07 L625.10 171.98 L625.41 171.90 L625.73 171.82 L626.08 171.75 L626.43 171.69 L626.81 171.64 L627.19 171.60 L627.59 171.57 L628.00 171.55 L628.42 171.54 L628.85 171.54 L629.29 171.55 L629.74 171.57 L630.19 171.60 L630.64 171.64 L631.09 171.70 L631.55 171.76 L632.00 171.84 L632.46 171.93 L632.90 172.03 L633.35 172.14 L633.79 172.26 L634.22 172.39 L634.64 172.53 L635.05 172.68 L635.44 172.85 L635.83 173.02 L636.20 173.20 L636.56 173.39 L636.90 173.59 L637.22 173.79 L637.52 174.01 L637.81 174.23 L638.07 174.46 L638.31 174.70 L638.53 174.94 L638.73 175.18 L638.91 175.43 L639.06 175.69 L639.19 175.95 L639.29 176.21 L639.37 176.47 L639.42 176.73 L639.45 177.00 L639.45 177.27 L639.42 177.53 L639.37 177.80 L639.30 178.06 L639.20 178.32 L639.08 178.58 L638.93 178.84 L638.76 179.09 L638.56 179.33 L638.34 179.57 L638.10 179.81 L637.84 180.04 L637.56 180.26 L637.26 180.48 L636.94 180.69 L636.60 180.89 L636.25 181.08 L635.88 181.26 L635.49 181.43 L635.10 181.60 L634.69 181.75 L634.27 181.89 L633.84 182.03 L633.40 182.15 L632.96 182.26 L632.51 182.36 L632.06 182.45 L631.61 182.53 L631.15 182.60 L630.70 182.65 L630.24 182.70 L629.79 182.73 L629.35 182.75 L628.91 182.76 L628.48 182.76 L628.06 182.75 L627.64 182.73 L627.24 182.70 L626.85 182.66 L626.48 182.61 L626.12 182.55 L625.78 182.49 L625.45 182.41 L625.14 182.33 L624.85 182.24 L624.58 182.14 L624.34 182.04 L624.11 181.93 L623.91 181.81 L623.73 181.69 L623.57 181.57 L623.44 181.44 L623.33 181.31 L623.25 181.18 L623.19 181.04 L623.16 180.91 L623.15 180.77 L623.17 180.63 L623.21 180.50 L623.28 180.36 L623.38 180.23 L623.49 180.10 L623.64 179.98 L623.80 179.86 L623.99 179.74 L624.21 179.62 L624.44 179.52 L624.70 179.42 L624.98 179.32 L625.27 179.23 L625.59 179.15 L625.92 179.08 L626.27 179.02 L626.64 178.96 L627.02 178.92 L627.42 178.88 L627.82 178.86 L628.24 178.84 L628.67 178.84 L629.10 178.84 L629.54 178.86 L629.99 178.88 L630.44 178.92 L630.89 178.97 L631.35 179.03 L631.80 179.10 L632.26 179.19 L632.71 179.28 L633.16 179.39 L633.60 179.50 L634.03 179.63 L634.45 179.77 L634.87 179.91 L635.27 180.07 L635.66 180.24 L636.04 180.42 L636.40 180.60 L636.75 180.80 L637.08 181.00 L637.39 181.21 L637.69 181.43 L637.96 181.66 L638.21 181.89 L638.44 182.13 L638.65 182.37 L638.83 182.62 L639.00 182.88 L639.13 183.13 L639.25 183.39 L639.34 183.65 L639.40 183.92 L639.44 184.18 L639.45 184.45" fill="none" stroke="#000" stroke-width="1.7" stroke-linejoin="round"/>
<path d="M626 62.4 C634.5 62.1 639.45 62.5 639.45 68.15" fill="none" stroke="#000" stroke-width="1.7"/>
<path d="M639.45 183.95 C639.6 187 640.3 188 640.3 191 V200" fill="none" stroke="#000" stroke-width="1.5"/>
<rect x="637.6" y="199.5" width="5" height="5" fill="#000"/>
<polygon points="625.9,204.1 647.2,204.1 645.6,207.6 627.5,207.6" fill="#000"/>
<rect x="627.5" y="206" width="18.1" height="35.5" fill="#000"/>
<path d="M633.3 241 V249.5 M639.5 241 V249.5" stroke="#000" stroke-width="1" fill="none"/>
<path d="M40 233.3 H180.9 V143" stroke="#000" stroke-width="1.3" fill="none" stroke-dasharray="10.5 4"/>
<g stroke="#000" stroke-width="1.25" fill="none">
<path d="M331.4 165.9 H340.3 M331.4 199.3 H340.3"/>
<path d="M336 165.9 V199.3" stroke-dasharray="10.3 1.6"/>
<path d="M278.3 203 V211.6 M327.1 203 V211.6"/>
<path d="M278.3 207.3 H327.1" stroke-dasharray="9.8 3"/>
</g>
<circle cx="584.5" cy="254.5" r="27.4" fill="#000"/>
<clipPath id="lclip"><rect x="589.3" y="240" width="11.3" height="32"/></clipPath>
<g fill="#fff" font-family="Liberation Sans, Arial, sans-serif" font-weight="bold">
<text transform="translate(559.9 268.6) scale(1.29 1.0)" font-size="33">U</text>
<g clip-path="url(#lclip)"><text transform="translate(586.9 268.6) scale(1.25 1.0)" font-size="33">L</text></g>
<text x="599.4" y="247.4" font-size="8.5" text-anchor="middle" stroke="#fff" stroke-width="0.25">R</text>
</g>
<circle cx="599.2" cy="244.3" r="5.3" fill="none" stroke="#fff" stroke-width="1.35"/>
<text transform="translate(169.2 19.9) scale(1 1.13)" font-size="23" font-family="Liberation Sans, Arial, sans-serif" fill="#111" letter-spacing="1.4" stroke="#111" stroke-width="0.8" stroke-linejoin="round">648 LED 66Ft (144 Drops)</text>
<text transform="translate(611.2 19.3) scale(1 1.17)" font-size="22" font-family="Liberation Sans, Arial, sans-serif" fill="#111" font-weight="bold" letter-spacing="0.9" stroke="#111" stroke-width="0.4" stroke-linejoin="round">10ft</text>
<text transform="translate(36.9 259.5) scale(1 1.07)" font-size="18.3" font-family="Liberation Sans, Arial, sans-serif" fill="#111" letter-spacing="1.3" stroke="#111" stroke-width="0.55" stroke-linejoin="round">Repeat(36 groups)</text>
<text transform="translate(341.8 187.6) scale(1 1.07)" font-size="18.3" font-family="Liberation Sans, Arial, sans-serif" fill="#111" letter-spacing="1.14" stroke="#111" stroke-width="0.55" stroke-linejoin="round">0.33ft</text>
<text transform="translate(277.5 234.5) scale(1 1.07)" font-size="18.3" font-family="Liberation Sans, Arial, sans-serif" fill="#111" letter-spacing="1.02" stroke="#111" stroke-width="0.55" stroke-linejoin="round">0.47ft</text>
<path d="M4.8 338.4 H674.9" stroke="#0a0a0a" stroke-width="1.3" fill="none"/>
<rect x="1" y="394.8" width="291.3" height="5.2" fill="#000"/>
<path d="M23.60 397 V671.50" stroke="#000" stroke-width="3" fill="none" stroke-linecap="round"/>
<polygon points="23.60,398.00 27.52,398.00 29.38,401.21 26.28,404.47 23.60,402.52" fill="#000"/><polygon points="29.17,401.43 40.70,412.37 38.02,415.20 26.48,404.26" fill="#fff" stroke="#000" stroke-width="0.8"/><polygon points="40.70,412.37 44.08,418.26 38.02,415.20" fill="#fff" stroke="#000" stroke-width="0.8" stroke-linejoin="round"/><polygon points="42.10,414.82 44.29,418.47 40.54,416.47" fill="#222"/>
<polygon points="23.60,450.93 18.42,455.71 21.52,458.97 23.60,458.72" fill="#000"/><polygon points="21.32,458.76 9.78,469.70 7.10,466.87 18.63,455.93" fill="#fff" stroke="#000" stroke-width="0.8"/><polygon points="9.78,469.70 3.72,472.76 7.10,466.87" fill="#fff" stroke="#000" stroke-width="0.8" stroke-linejoin="round"/><polygon points="7.26,470.97 3.51,472.97 5.70,469.32" fill="#222"/>
<polygon points="23.60,505.13 28.78,509.91 25.68,513.17 23.60,512.92" fill="#000"/><polygon points="28.57,510.13 40.10,521.07 37.42,523.90 25.88,512.96" fill="#fff" stroke="#000" stroke-width="0.8"/><polygon points="40.10,521.07 43.48,526.96 37.42,523.90" fill="#fff" stroke="#000" stroke-width="0.8" stroke-linejoin="round"/><polygon points="41.50,523.52 43.69,527.17 39.94,525.17" fill="#222"/>
<polygon points="23.60,559.33 18.42,564.11 21.52,567.37 23.60,567.12" fill="#000"/><polygon points="21.32,567.16 9.78,578.10 7.10,575.27 18.63,564.33" fill="#fff" stroke="#000" stroke-width="0.8"/><polygon points="9.78,578.10 3.72,581.16 7.10,575.27" fill="#fff" stroke="#000" stroke-width="0.8" stroke-linejoin="round"/><polygon points="7.26,579.37 3.51,581.37 5.70,577.72" fill="#222"/>
<polygon points="23.60,613.53 28.78,618.31 25.68,621.57 23.60,621.32" fill="#000"/><polygon points="28.57,618.53 40.10,629.47 37.42,632.30 25.88,621.36" fill="#fff" stroke="#000" stroke-width="0.8"/><polygon points="40.10,629.47 43.48,635.36 37.42,632.30" fill="#fff" stroke="#000" stroke-width="0.8" stroke-linejoin="round"/><polygon points="41.50,631.92 43.69,635.57 39.94,633.57" fill="#222"/>
<polygon points="24.85,672.18 21.52,676.37 18.42,673.11 22.79,670.01" fill="#000"/><polygon points="21.32,676.16 9.35,687.51 6.66,684.69 18.63,673.33" fill="#fff" stroke="#000" stroke-width="0.8"/><polygon points="9.35,687.51 3.29,690.57 6.66,684.69" fill="#fff" stroke="#000" stroke-width="0.8" stroke-linejoin="round"/><polygon points="6.82,688.78 3.07,690.78 5.27,687.14" fill="#222"/>
<path d="M103.90 397 V563.10" stroke="#000" stroke-width="3" fill="none" stroke-linecap="round"/>
<polygon points="103.90,398.00 107.82,398.00 109.68,401.21 106.58,404.47 103.90,402.52" fill="#000"/><polygon points="109.47,401.43 121.00,412.37 118.32,415.20 106.78,404.26" fill="#fff" stroke="#000" stroke-width="0.8"/><polygon points="121.00,412.37 124.38,418.26 118.32,415.20" fill="#fff" stroke="#000" stroke-width="0.8" stroke-linejoin="round"/><polygon points="122.40,414.82 124.59,418.47 120.84,416.47" fill="#222"/>
<polygon points="103.90,450.93 98.72,455.71 101.82,458.97 103.90,458.72" fill="#000"/><polygon points="101.62,458.76 90.08,469.70 87.40,466.87 98.93,455.93" fill="#fff" stroke="#000" stroke-width="0.8"/><polygon points="90.08,469.70 84.02,472.76 87.40,466.87" fill="#fff" stroke="#000" stroke-width="0.8" stroke-linejoin="round"/><polygon points="87.56,470.97 83.81,472.97 86.00,469.32" fill="#222"/>
<polygon points="103.90,505.13 109.08,509.91 105.98,513.17 103.90,512.92" fill="#000"/><polygon points="108.87,510.13 120.40,521.07 117.72,523.90 106.18,512.96" fill="#fff" stroke="#000" stroke-width="0.8"/><polygon points="120.40,521.07 123.78,526.96 117.72,523.90" fill="#fff" stroke="#000" stroke-width="0.8" stroke-linejoin="round"/><polygon points="121.80,523.52 123.99,527.17 120.24,525.17" fill="#222"/>
<polygon points="105.15,563.78 101.82,567.97 98.72,564.71 103.09,561.61" fill="#000"/><polygon points="101.62,567.76 89.65,579.11 86.96,576.29 98.93,564.93" fill="#fff" stroke="#000" stroke-width="0.8"/><polygon points="89.65,579.11 83.59,582.17 86.96,576.29" fill="#fff" stroke="#000" stroke-width="0.8" stroke-linejoin="round"/><polygon points="87.12,580.38 83.37,582.38 85.57,578.74" fill="#222"/>
<path d="M185.40 397 V617.30" stroke="#000" stroke-width="3" fill="none" stroke-linecap="round"/>
<polygon points="185.40,398.00 189.32,398.00 191.18,401.21 188.08,404.47 185.40,402.52" fill="#000"/><polygon points="190.97,401.43 202.50,412.37 199.82,415.20 188.28,404.26" fill="#fff" stroke="#000" stroke-width="0.8"/><polygon points="202.50,412.37 205.88,418.26 199.82,415.20" fill="#fff" stroke="#000" stroke-width="0.8" stroke-linejoin="round"/><polygon points="203.90,414.82 206.09,418.47 202.34,416.47" fill="#222"/>
<polygon points="185.40,450.93 180.22,455.71 183.32,458.97 185.40,458.72" fill="#000"/><polygon points="183.12,458.76 171.58,469.70 168.90,466.87 180.43,455.93" fill="#fff" stroke="#000" stroke-width="0.8"/><polygon points="171.58,469.70 165.52,472.76 168.90,466.87" fill="#fff" stroke="#000" stroke-width="0.8" stroke-linejoin="round"/><polygon points="169.06,470.97 165.31,472.97 167.50,469.32" fill="#222"/>
<polygon points="185.40,505.13 190.58,509.91 187.48,513.17 185.40,512.92" fill="#000"/><polygon points="190.37,510.13 201.90,521.07 199.22,523.90 187.68,512.96" fill="#fff" stroke="#000" stroke-width="0.8"/><polygon points="201.90,521.07 205.28,526.96 199.22,523.90" fill="#fff" stroke="#000" stroke-width="0.8" stroke-linejoin="round"/><polygon points="203.30,523.52 205.49,527.17 201.74,525.17" fill="#222"/>
<polygon points="185.40,559.33 180.22,564.11 183.32,567.37 185.40,567.12" fill="#000"/><polygon points="183.12,567.16 171.58,578.10 168.90,575.27 180.43,564.33" fill="#fff" stroke="#000" stroke-width="0.8"/><polygon points="171.58,578.10 165.52,581.16 168.90,575.27" fill="#fff" stroke="#000" stroke-width="0.8" stroke-linejoin="round"/><polygon points="169.06,579.37 165.31,581.37 167.50,577.72" fill="#222"/>
<polygon points="186.21,615.81 190.58,618.91 187.48,622.17 184.15,617.98" fill="#000"/><polygon points="190.37,619.13 202.34,630.49 199.65,633.31 187.68,621.96" fill="#fff" stroke="#000" stroke-width="0.8"/><polygon points="202.34,630.49 205.71,636.37 199.65,633.31" fill="#fff" stroke="#000" stroke-width="0.8" stroke-linejoin="round"/><polygon points="203.73,632.94 205.93,636.58 202.18,634.58" fill="#222"/>
<path d="M266.70 397 V508.90" stroke="#000" stroke-width="3" fill="none" stroke-linecap="round"/>
<polygon points="266.70,398.00 270.62,398.00 272.48,401.21 269.38,404.47 266.70,402.52" fill="#000"/><polygon points="272.27,401.43 283.80,412.37 281.12,415.20 269.58,404.26" fill="#fff" stroke="#000" stroke-width="0.8"/><polygon points="283.80,412.37 287.18,418.26 281.12,415.20" fill="#fff" stroke="#000" stroke-width="0.8" stroke-linejoin="round"/><polygon points="285.20,414.82 287.39,418.47 283.64,416.47" fill="#222"/>
<polygon points="266.70,450.93 261.52,455.71 264.62,458.97 266.70,458.72" fill="#000"/><polygon points="264.42,458.76 252.88,469.70 250.20,466.87 261.73,455.93" fill="#fff" stroke="#000" stroke-width="0.8"/><polygon points="252.88,469.70 246.82,472.76 250.20,466.87" fill="#fff" stroke="#000" stroke-width="0.8" stroke-linejoin="round"/><polygon points="250.36,470.97 246.61,472.97 248.80,469.32" fill="#222"/>
<polygon points="267.51,507.41 271.88,510.51 268.78,513.77 265.45,509.58" fill="#000"/><polygon points="271.67,510.73 283.64,522.09 280.95,524.91 268.98,513.56" fill="#fff" stroke="#000" stroke-width="0.8"/><polygon points="283.64,522.09 287.01,527.97 280.95,524.91" fill="#fff" stroke="#000" stroke-width="0.8" stroke-linejoin="round"/><polygon points="285.03,524.54 287.23,528.18 283.48,526.18" fill="#222"/>
<path d="M54.300000000000004 401.5 V684.4" stroke="#555" stroke-width="0.8" fill="none"/>
<path d="M54.2 686.4 L59.6 680.1999999999999 Q56.400000000000006 682.8 54.2 683.5 Q52.0 682.8 48.800000000000004 680.1999999999999 Z" fill="#111"/>
<path d="M132.0 401.5 V568.3" stroke="#555" stroke-width="0.8" fill="none"/>
<path d="M131.9 570.3 L137.3 564.0999999999999 Q134.1 566.6999999999999 131.9 567.4 Q129.70000000000002 566.6999999999999 126.5 564.0999999999999 Z" fill="#111"/>
<path d="M232.7 401.5 V624.8" stroke="#555" stroke-width="0.8" fill="none"/>
<path d="M232.6 626.8 L238.0 620.5999999999999 Q234.79999999999998 623.1999999999999 232.6 623.9 Q230.4 623.1999999999999 227.2 620.5999999999999 Z" fill="#111"/>
<path d="M314.5 401.5 V510.79999999999995" stroke="#555" stroke-width="0.8" fill="none"/>
<path d="M314.4 512.8 L319.79999999999995 506.59999999999997 Q316.59999999999997 509.19999999999993 314.4 509.9 Q312.2 509.19999999999993 309.0 506.59999999999997 Z" fill="#111"/>
<text transform="translate(29.0 706.0) scale(1 1.07)" font-size="18.3" font-family="Liberation Sans, Arial, sans-serif" fill="#111" letter-spacing="0.7" stroke="#111" stroke-width="0.55" stroke-linejoin="round">1.65ft</text>
<text transform="translate(107.3 588.8) scale(1 1.07)" font-size="18.3" font-family="Liberation Sans, Arial, sans-serif" fill="#111" letter-spacing="0.74" stroke="#111" stroke-width="0.55" stroke-linejoin="round">0.99ft</text>
<text transform="translate(206.4 649.2) scale(1 1.07)" font-size="18.3" font-family="Liberation Sans, Arial, sans-serif" fill="#111" letter-spacing="0.82" stroke="#111" stroke-width="0.55" stroke-linejoin="round">1.32ft</text>
<text transform="translate(289.6 530.1) scale(1 1.07)" font-size="18.3" font-family="Liberation Sans, Arial, sans-serif" fill="#111" letter-spacing="0.86" stroke="#111" stroke-width="0.55" stroke-linejoin="round">0.66ft</text>
<text transform="translate(544.0 171.2) scale(1 1.13)" font-size="17.5" font-family="Liberation Sans, Arial, sans-serif" fill="#111" letter-spacing="2.0" stroke="#111" stroke-width="0.55" stroke-linejoin="round">3LED</text>
<text transform="translate(446.9 205.7) scale(1 1.13)" font-size="17.5" font-family="Liberation Sans, Arial, sans-serif" fill="#111" letter-spacing="2.0" stroke="#111" stroke-width="0.55" stroke-linejoin="round">4LED</text>
<text transform="translate(496.6 239.7) scale(1 1.13)" font-size="17.5" font-family="Liberation Sans, Arial, sans-serif" fill="#111" letter-spacing="1.8" stroke="#111" stroke-width="0.55" stroke-linejoin="round">5LED</text>
<text transform="translate(399.8 273.9) scale(1 1.11)" font-size="17.5" font-family="Liberation Sans, Arial, sans-serif" fill="#111" letter-spacing="1.53" stroke="#111" stroke-width="0.55" stroke-linejoin="round">6LED</text>
<text transform="translate(364.7 434.8) scale(1 1.13)" font-size="17.5" font-family="Liberation Sans, Arial, sans-serif" fill="#111" letter-spacing="1.96" stroke="#111" stroke-width="0.55" stroke-linejoin="round">Package Included:</text>
<text transform="translate(364.7 469.8) scale(1 1.13)" font-size="17.5" font-family="Liberation Sans, Arial, sans-serif" fill="#111" letter-spacing="1.75" stroke="#111" stroke-width="0.55" stroke-linejoin="round">1* 66ft 648 LED Christmas Lights</text>
<text transform="translate(364.7 505.1) scale(1 1.13)" font-size="17.5" font-family="Liberation Sans, Arial, sans-serif" fill="#111" letter-spacing="1.92" stroke="#111" stroke-width="0.55" stroke-linejoin="round">1* Low Voltage Power Adapter</text>
<text transform="translate(364.7 540.1) scale(1 1.13)" font-size="17.5" font-family="Liberation Sans, Arial, sans-serif" fill="#111" letter-spacing="1.65" stroke="#111" stroke-width="0.55" stroke-linejoin="round">1* User Manual</text>
<text transform="translate(364.8 646.9) scale(1 1.13)" font-size="17.5" font-family="Liberation Sans, Arial, sans-serif" fill="#111" letter-spacing="1.75" stroke="#111" stroke-width="0.55" stroke-linejoin="round">Input Voltage: 120V/60Hz</text>
<text transform="translate(364.8 681.9) scale(1 1.13)" font-size="17.5" font-family="Liberation Sans, Arial, sans-serif" fill="#111" letter-spacing="1.78" stroke="#111" stroke-width="0.55" stroke-linejoin="round">Output Voltage: 29V/6W</text>
</svg>
</body></html>
